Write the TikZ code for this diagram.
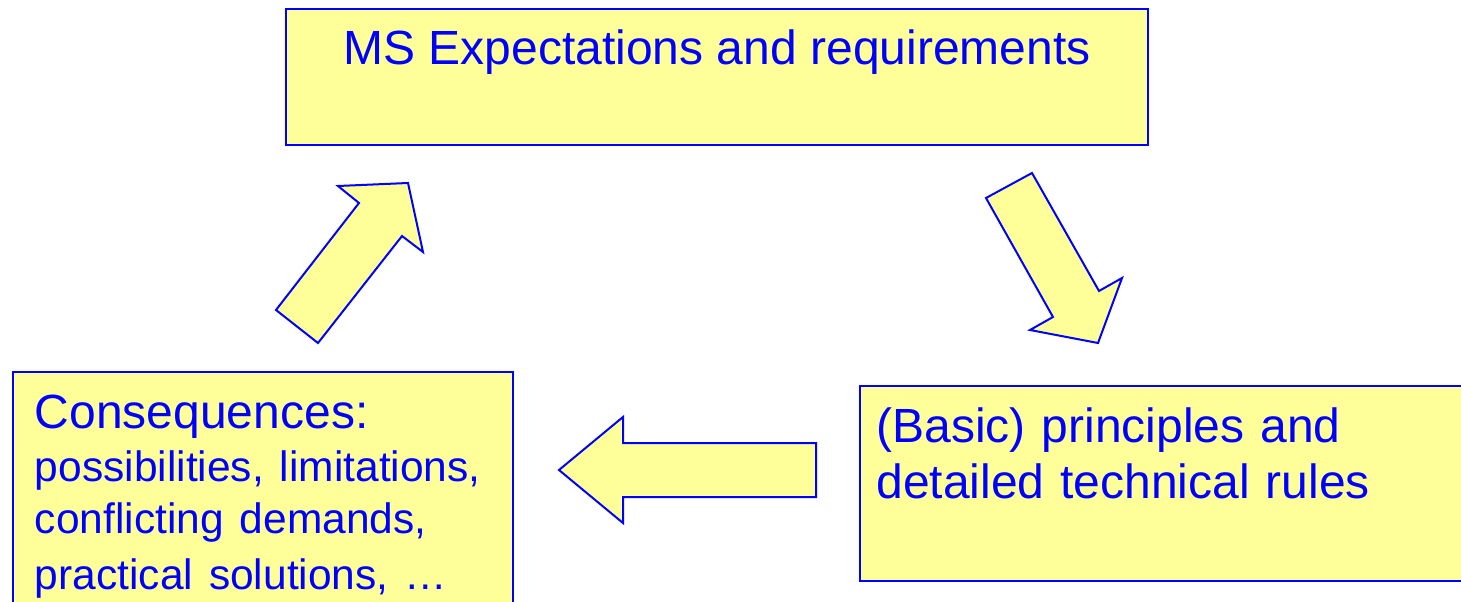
\documentclass[tikz,border=0pt]{standalone}
\usepackage{fontspec}
\setmainfont{Liberation Sans}
\usepackage{tikz}
\usepackage{xcolor}
\definecolor{BoxBlue}{RGB}{0,0,255}
\definecolor{LiteYellow}{RGB}{255,255,153}
\tikzset{%
  box/.style={%
    rectangle,%
    draw=BoxBlue,%
    fill=LiteYellow,%
    line width=1pt,%
    inner sep=0pt,%
  },
  box_text/.style={%
    color=BoxBlue,%
    inner sep=0pt,%
    font={\fontsize{24}{28}\selectfont},%
  },
  block_arrow/.style={%
    draw=BoxBlue,%
    fill=LiteYellow,%
    line width=1pt,%
    line join=miter,%
  },
}

\begin{document}
\begin{tikzpicture}[x=0.5pt, y=0.5pt]
  \useasboundingbox (0,0) rectangle (1461,601);

    \node [box, minimum width=431pt, minimum height=68pt] (Expect) at (717,524) {};
    \node [box, minimum width=250pt, minimum height=124.5pt] (Conseq) at (263,104.5) {};
    \node [box, minimum width=310pt, minimum height=97.5pt] (Rules) at (1170,117.5) {};

    \node [box_text, anchor=base] (ExpectText) at (717,536)
      {MS Expectations and requirements};
    \node [box_text, anchor=base west, text width=240pt, align=left] (ConseqText) at (34.5,173)
      {Consequences:\\[0.75pt]
       \fontsize{21.25}{26}\selectfont possibilities, limitations,\\
       conflicting demands,\\
       practical solutions, …};
    \node [box_text, anchor=base west, text width=290pt, align=left] (RulesText) at (876,159)
      {(Basic) principles and\\
       detailed technical rules};

    % block arrows round the cycle
    \draw [block_arrow]
      (986,403) -- (1032,428) -- (1099,310) -- (1122,323)
      -- (1098,258) -- (1030,271) -- (1053,284) -- cycle;
    \draw [block_arrow]
      (816,158) -- (623,158) -- (623,184) -- (559,131)
      -- (623,78) -- (623,104) -- (816,104) -- cycle;
    \draw [block_arrow]
      (276,291) -- (359,398) -- (338,415) -- (408,418)
      -- (423,349) -- (402,365) -- (318,258) -- cycle;

  \end{tikzpicture}
\end{document}
